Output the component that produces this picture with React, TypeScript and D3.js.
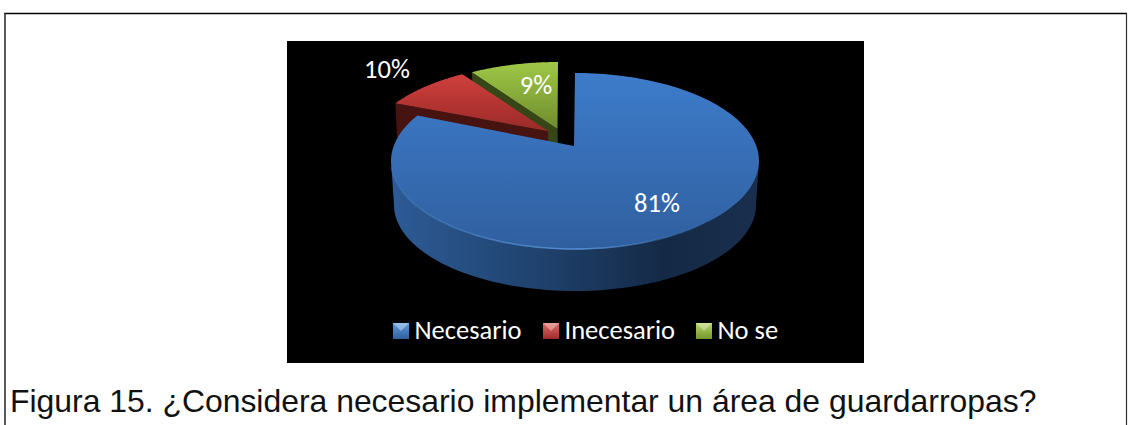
import React from "react";
import * as d3 from "d3";

const categories = ["Necesario", "Inecesario", "No se"];
const values = [81, 10, 9];
const labels = ["81%", "10%", "9%"];
const topFills = ["url(#gBlue)", "url(#gRed)", "url(#gGreen)"];
const wallFills = ["url(#gWall)", "#471311", "#364616"];
const keyColors = [["#5f9be0", "#2f5f9f"], ["#e06a66", "#a02c2a"], ["#b5d863", "#76942f"]];
const explodeCentre = [[575, 161], [548.5, 152], [558, 150]];
const apex = [[574, 146], [548, 131], [557.5, 129]];
const startNudge = [0, 0.045, 0];
const labelPos = [[657, 212], [387, 78], [536, 94]];
const legendX = [393, 543, 696];
const RX = 184, RY = 88, DEPTH = 42;
const labelFont = "26.5px Carlito, 'Open Sans', 'Noto Sans', sans-serif";

const pie = d3.pie<number>().sort(null)(values);
const warp = d3.scaleLinear().domain([0, Math.PI, 2 * Math.PI]).range([0, (205 * Math.PI) / 180, 2 * Math.PI]);
const onEllipse = (c: number[], t: number, rx = RX, ry = RY) => [c[0] + rx * Math.sin(t), c[1] - ry * Math.cos(t)];
const line = d3.line();
const sample = (a: number, b: number, n = 80) => d3.range(n + 1).map((i) => a + ((b - a) * i) / n);

export default function App() {
  const blueC = explodeCentre[0];
  const lowC = [blueC[0], blueC[1] + 44];
  const wallPts = [
    ...sample(Math.PI / 2, (3 * Math.PI) / 2).map((t) => onEllipse(blueC, t)),
    ...sample((3 * Math.PI) / 2, Math.PI / 2).map((t) => onEllipse(lowC, t, RX - 3, RY - 2)),
  ];
  const rim = sample(Math.PI * 0.75, Math.PI * 1.48).map((t) => onEllipse(blueC, t));
  return (
    <svg width={1132} height={425} style={{ position: "absolute", left: 0, top: 0, background: "#fff" }}>
      <defs>
        <linearGradient id="gBlue" x1="0" y1="0" x2="0" y2="1">
          <stop offset="0" stopColor="#3d7ccb" />
          <stop offset="1" stopColor="#305f9f" />
        </linearGradient>
        <linearGradient id="gRed" x1="0" y1="0" x2="0" y2="1">
          <stop offset="0" stopColor="#cf403d" />
          <stop offset="1" stopColor="#9a2a28" />
        </linearGradient>
        <linearGradient id="gGreen" x1="0" y1="0" x2="0" y2="1">
          <stop offset="0" stopColor="#9fc847" />
          <stop offset="1" stopColor="#6f8c2c" />
        </linearGradient>
        <linearGradient id="gWall" x1="0" y1="0" x2="1" y2="0">
          <stop offset="0" stopColor="#2d5b96" />
          <stop offset="0.4" stopColor="#1f426e" />
          <stop offset="0.75" stopColor="#142945" />
          <stop offset="1" stopColor="#1a2f4e" />
        </linearGradient>
        <linearGradient id="gRim" x1="0" y1="0" x2="1" y2="0">
          <stop offset="0" stopColor="#5a96dc" stopOpacity="0.35" />
          <stop offset="0.6" stopColor="#5a96dc" stopOpacity="0.9" />
          <stop offset="1" stopColor="#5a96dc" stopOpacity="0" />
        </linearGradient>
        {keyColors.map((k, i) => (
          <linearGradient key={i} id={`key${i}`} x1="0" y1="0" x2="0" y2="1">
            <stop offset="0" stopColor={k[0]} />
            <stop offset="1" stopColor={k[1]} />
          </linearGradient>
        ))}
      </defs>

      <line x1={4} y1={13.5} x2={1127} y2={13.5} stroke="#000" strokeWidth={1.4} />
      <line x1={5} y1={13} x2={5} y2={425} stroke="#333" strokeWidth={1.6} />
      <line x1={1126.5} y1={13} x2={1126.5} y2={425} stroke="#333" strokeWidth={1.2} />
      <rect x={287} y={41} width={577} height={322} fill="#000" />

      {[2, 1].map((i) => {
        const p = pie[i];
        const c = explodeCentre[i];
        const a = apex[i];
        const t0 = warp(p.startAngle) + startNudge[i];
        const t1 = warp(p.endAngle);
        const arc = sample(t0, t1).map((t) => onEllipse(c, t));
        const s = arc[0];
        const wall = [s, a, [a[0] + 1, a[1] + DEPTH], [s[0] + 2, s[1] + DEPTH]] as [number, number][];
        return (
          <g key={i}>
            <path d={line(wall)!} fill={wallFills[i]} />
            <path d={line([...arc, a] as [number, number][])! + "Z"} fill={topFills[i]} />
          </g>
        );
      })}

      <path d={line(wallPts as [number, number][])! + "Z"} fill={wallFills[0]} />
      <path
        d={line([...sample(warp(pie[0].startAngle), warp(pie[0].endAngle), 200).map((t) => onEllipse(blueC, t)), apex[0]] as [number, number][])! + "Z"}
        fill={topFills[0]}
      />
      <path d={line(rim as [number, number][])!} fill="none" stroke="url(#gRim)" strokeWidth={1.5} />

      {labels.map((l, i) => (
        <text key={l} x={labelPos[i][0]} y={labelPos[i][1]} textAnchor="middle" fill="#fff" style={{ font: labelFont }}>{l}</text>
      ))}

      {categories.map((c, i) => (
        <g key={c}>
          <rect x={legendX[i]} y={323} width={16} height={16} fill={`url(#key${i})`} />
          <path d={line([[legendX[i], 323], [legendX[i] + 16, 323], [legendX[i] + 8, 331]])! + "Z"} fill="#fff" opacity={0.35} />
          <text x={legendX[i] + 21.5} y={339} fill="#fff" style={{ font: labelFont }}>{c}</text>
        </g>
      ))}

      <text x={10} y={411.5} fill="#111" style={{ font: "31.9px 'Liberation Sans', Arial, sans-serif" }}>
        Figura 15. ¿Considera necesario implementar un área de guardarropas?
      </text>
    </svg>
  );
}
